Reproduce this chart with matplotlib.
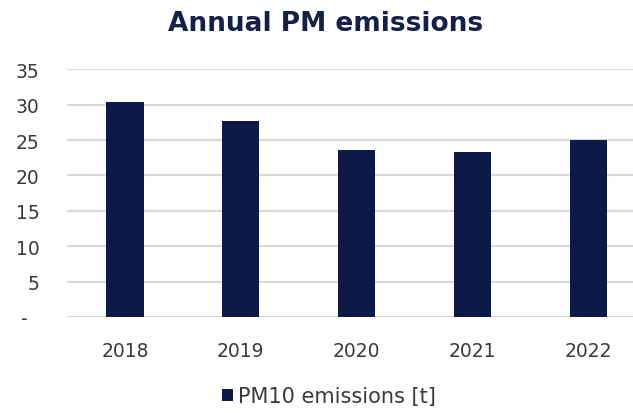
import matplotlib
matplotlib.use("Agg")
import matplotlib.pyplot as plt

years = ["2018", "2019", "2020", "2021", "2022"]
pm10 = [30.4, 27.7, 23.6, 23.3, 25.0]
y_ticks = [0, 5, 10, 15, 20, 25, 30, 35]
y_tick_labels = ["-  ", "5", "10", "15", "20", "25", "30", "35"]

navy = "#0d1a47"
text_grey = "#3a3a3a"

fig = plt.figure(figsize=(6.33, 4.14), dpi=100)
ax = fig.add_axes([0.106, 0.232, 0.915, 0.598])

x = range(len(years))
ax.bar(x, pm10, width=0.32, color=navy, zorder=3, label="PM10 emissions [t]")

ax.set_xlim(-0.5, len(years) - 0.5)
ax.set_ylim(0, 35)
ax.set_yticks(y_ticks)
ax.set_yticklabels(y_tick_labels)
ax.set_xticks(list(x))
ax.set_xticklabels(years)

ax.grid(axis="y", color="#d9d9d9", linewidth=1.6, zorder=0)
for s in ax.spines.values():
    s.set_visible(False)
ax.tick_params(axis="both", length=0, labelsize=13.5, colors=text_grey)
ax.tick_params(axis="x", pad=17)
ax.tick_params(axis="y", pad=20)

fig.text(0.514, 0.943, "Annual PM emissions", ha="center", va="center",
         fontsize=19, fontweight="bold", color="#14204a")

fig.legend(loc="center", bbox_to_anchor=(0.52, 0.04), frameon=False,
           fontsize=15, handlelength=0.5, handleheight=0.5, handletextpad=0.25,
           labelcolor=text_grey)

fig.savefig("out.png", dpi=100)
